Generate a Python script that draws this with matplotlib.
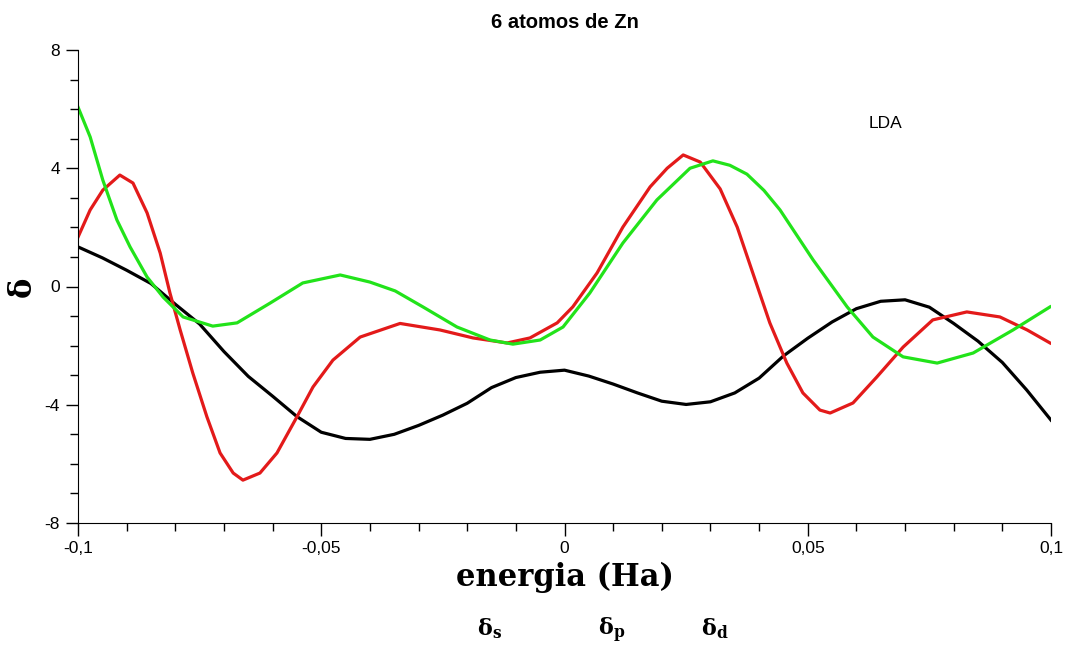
import matplotlib
matplotlib.use("Agg")
import matplotlib.pyplot as plt
from matplotlib.ticker import MultipleLocator

# values
x_s = [-0.100, -0.095, -0.090, -0.085, -0.080, -0.075, -0.070, -0.065, -0.060, -0.055,
       -0.050, -0.045, -0.040, -0.035, -0.030, -0.025, -0.020, -0.015, -0.010, -0.005,
       0.000, 0.005, 0.010, 0.015, 0.020, 0.025, 0.030, 0.035, 0.040, 0.045,
       0.050, 0.055, 0.060, 0.065, 0.070, 0.075, 0.080, 0.085, 0.090, 0.095, 0.100]
delta_s = [1.34, 0.97, 0.55, 0.10, -0.60, -1.27, -2.20, -3.04, -3.71, -4.40,
           -4.93, -5.14, -5.17, -5.00, -4.70, -4.35, -3.95, -3.42, -3.08, -2.90,
           -2.83, -3.03, -3.30, -3.60, -3.88, -3.99, -3.90, -3.60, -3.10, -2.35,
           -1.75, -1.20, -0.75, -0.50, -0.45, -0.70, -1.25, -1.85, -2.57, -3.50, -4.52]

x_p = [-0.1000, -0.0975, -0.0949, -0.0914, -0.0887, -0.0858, -0.0831, -0.0811, -0.0790,
       -0.0764, -0.0735, -0.0708, -0.0681, -0.0661, -0.0626, -0.0591, -0.0550, -0.0517,
       -0.0476, -0.0420, -0.0338, -0.0256, -0.0188, -0.0118, -0.0071, -0.0015, 0.0017,
       0.0067, 0.0120, 0.0176, 0.0211, 0.0244, 0.0279, 0.0320, 0.0355, 0.0387, 0.0422,
       0.0457, 0.0490, 0.0525, 0.0546, 0.0593, 0.0642, 0.0696, 0.0757, 0.0827, 0.0895,
       0.0951, 0.0998]
delta_p = [1.67, 2.59, 3.26, 3.77, 3.50, 2.49, 1.13, -0.22, -1.47,
           -2.93, -4.41, -5.63, -6.31, -6.55, -6.31, -5.63, -4.41, -3.40,
           -2.49, -1.71, -1.25, -1.47, -1.74, -1.91, -1.74, -1.23, -0.69,
           0.46, 2.01, 3.37, 4.00, 4.45, 4.21, 3.30, 2.01, 0.46, -1.23,
           -2.59, -3.60, -4.18, -4.28, -3.94, -3.06, -2.05, -1.13, -0.86, -1.03,
           -1.47, -1.91]

x_d = [-0.1000, -0.0975, -0.0949, -0.0920, -0.0893, -0.0858, -0.0825, -0.0784, -0.0723,
       -0.0673, -0.0605, -0.0538, -0.0461, -0.0400, -0.0348, -0.0291, -0.0221, -0.0153,
       -0.0106, -0.0050, -0.0003, 0.0052, 0.0120, 0.0190, 0.0258, 0.0305, 0.0340, 0.0375,
       0.0410, 0.0443, 0.0511, 0.0581, 0.0634, 0.0696, 0.0766, 0.0840, 0.0922, 0.0998]
delta_d = [6.07, 5.06, 3.60, 2.25, 1.34, 0.32, -0.36, -1.03, -1.34,
           -1.23, -0.56, 0.12, 0.39, 0.15, -0.15, -0.69, -1.37, -1.81,
           -1.95, -1.81, -1.37, -0.22, 1.47, 2.93, 4.00, 4.25, 4.10, 3.80,
           3.25, 2.59, 0.90, -0.69, -1.71, -2.38, -2.59, -2.25, -1.47, -0.69]

xticks = [-0.1, -0.05, 0, 0.05, 0.1]
xtick_labels = ["-0,1", "-0,05", "0", "0,05", "0,1"]
yticks = [-8, -4, 0, 4, 8]
ytick_labels = ["-8", "-4", "0", "4", "8"]
legend_labels = [r"$\mathbf{\delta_s}$", r"$\mathbf{\delta_p}$", r"$\mathbf{\delta_d}$"]

plt.rcParams["mathtext.fontset"] = "dejavuserif"

fig = plt.figure(figsize=(10.65, 6.49), dpi=100)
ax = fig.add_axes([78 / 1065, 1 - 523 / 649, (1051 - 78) / 1065, (523 - 50) / 649])

ax.plot(x_s, delta_s, color="black", lw=2.3)
ax.plot(x_p, delta_p, color="#e31a1a", lw=2.3)
ax.plot(x_d, delta_d, color="#22e31a", lw=2.3)

ax.set_xlim(-0.1, 0.1)
ax.set_ylim(-8, 8)
ax.set_xticks(xticks)
ax.set_xticklabels(xtick_labels)
ax.set_yticks(yticks)
ax.set_yticklabels(ytick_labels)
ax.xaxis.set_minor_locator(MultipleLocator(0.01))
ax.yaxis.set_minor_locator(MultipleLocator(1))
ax.tick_params(which="major", length=9, width=1, labelsize=12.5, pad=4)
ax.tick_params(which="minor", length=6, width=1)
ax.spines["top"].set_visible(False)
ax.spines["right"].set_visible(False)
for lab in ax.get_xticklabels() + ax.get_yticklabels():
    lab.set_family("Liberation Sans")

ax.set_title("6 atomos de Zn", fontsize=14.5, fontweight="bold", family="Liberation Sans", pad=16)
ax.set_xlabel("energia (Ha)", fontsize=22, fontweight="bold", family="DejaVu Serif", labelpad=4)
ax.set_ylabel("δ", fontsize=22, fontweight="bold", family="DejaVu Serif", labelpad=5)
ax.text(0.066, 5.5, "LDA", fontsize=12.5, family="Liberation Sans", ha="center", va="center")

# legend entries near the bottom edge of the picture
for xpos, lab in zip([490, 612, 715], legend_labels):
    fig.text(xpos / 1065, 1 - 616 / 649, lab, fontsize=16, ha="center", va="top")

fig.savefig("out.png", dpi=100)
